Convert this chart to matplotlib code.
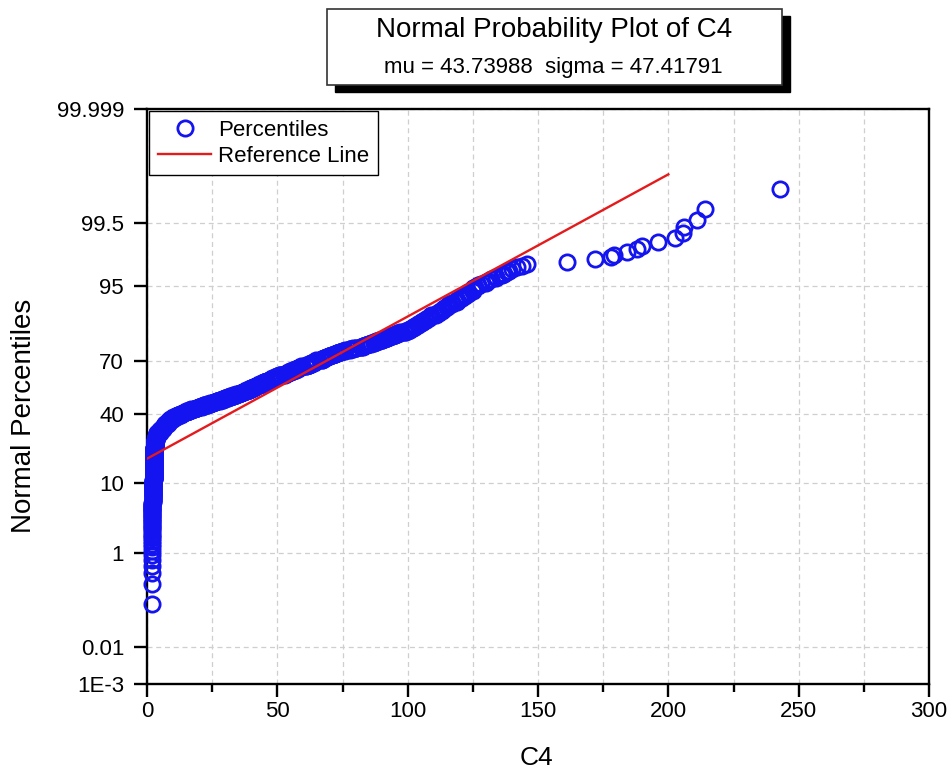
import numpy as np
import matplotlib
matplotlib.use('Agg')
import matplotlib.pyplot as plt
from matplotlib.patches import Rectangle
from matplotlib.ticker import FixedLocator, NullLocator, MultipleLocator
from statistics import NormalDist

plt.rcParams['font.family'] = ['Liberation Sans', 'DejaVu Sans']

c4_values = [2.0, 2.2, 2.5, 2.8, 3.0, 3.5, 4, 5, 6, 7, 8, 9, 10,
             11, 12, 13, 14, 15, 16,
             17, 18, 19, 20, 21, 22, 23, 24, 25,
             26, 27, 28, 29, 30, 31, 32, 33, 34, 35, 36,
             37, 38, 39, 40, 41, 42, 43, 44, 45, 46, 47, 48, 49, 50,
             51, 53, 54, 55, 56, 57, 58, 59, 61, 62,
             63, 64, 65, 67, 68, 69, 70, 71, 72, 73, 74, 75,
             76, 78, 79, 80, 82, 83,
             84, 85, 86, 87, 88, 89, 90, 91, 92, 93, 94, 95, 96, 97, 99, 100,
             101, 102, 103, 104, 105, 106, 107, 108, 109, 111,
             112, 113, 114, 115, 116, 117, 119,
             120, 121, 122, 123, 125,
             126, 127, 128, 130, 131, 132, 134,
             136, 137, 138, 139, 140,
             142, 144, 145.6,
             161, 172, 178, 179, 184, 188, 190, 196, 202.5, 205.6, 206, 211, 214, 243]
c4_counts = [35, 30, 40, 30, 20, 12, 10, 10, 10, 9, 8, 7, 7,
             4, 4, 4, 4, 4, 4,
             3, 3, 3, 3, 3, 3, 3, 3, 3,
             3, 3, 3, 4, 3, 3, 3, 4, 3, 3, 3,
             4, 4, 4, 5, 4, 4, 4, 4, 5, 4, 4, 4, 4, 4,
             4, 4, 4, 4, 4, 4, 4, 4, 3, 4,
             4, 4, 4, 4, 4, 3, 3, 3, 3, 3, 3, 2,
             2, 3, 2, 2, 2, 3,
             3, 2, 2, 2, 3, 2, 2, 2, 3, 2, 3, 2, 3, 2, 3, 2,
             3, 3, 3, 4, 3, 3, 4, 3, 3, 3,
             3, 3, 3, 3, 2, 2, 4,
             2, 2, 2, 3, 4,
             1, 2, 1, 2, 1, 1, 2,
             1, 1, 1, 1, 1,
             1, 1, 1,
             1, 1, 1, 1, 1, 1, 1, 1, 1, 1, 1, 1, 1, 1]

mu = 43.73988
sigma = 47.41791
ref_x = [0, 200]

y_ticks = [0.001, 0.01, 1, 10, 40, 70, 95, 99.5, 99.999]
y_labels = ['1E-3', '0.01', '1', '10', '40', '70', '95', '99.5', '99.999']

nd = NormalDist()
_ppf = np.vectorize(nd.inv_cdf, otypes=[float])
_cdf = np.vectorize(nd.cdf, otypes=[float])


def fwd(p):
    p = np.clip(np.asarray(p, dtype=float) / 100.0, 1e-12, 1 - 1e-12)
    return _ppf(p)


def inv(z):
    return 100.0 * _cdf(np.asarray(z, dtype=float))


data = np.sort(np.repeat(c4_values, c4_counts))
n = len(data)
rank = np.arange(1, n + 1)
pct = (rank - 0.375) / (n + 0.25) * 100  # Blom plotting positions
ref_p = inv((np.array(ref_x) - mu) / sigma)

fig = plt.figure(figsize=(9.5, 7.71), dpi=100)
ax = fig.add_axes([147 / 950, 1 - 684 / 771, 782 / 950, 575 / 771])
ax.set_yscale('function', functions=(fwd, inv))

ax.plot(data, pct, 'o', ms=11, mfc='none', mec='#1414f0', mew=2.0,
        label='Percentiles', clip_on=False, zorder=3)
ax.plot(ref_x, ref_p, color='#e41a1c', lw=1.7, label='Reference Line', zorder=4)

ax.set_xlim(0, 300)
ax.set_ylim(0.001, 99.999)
ax.xaxis.set_major_locator(MultipleLocator(50))
ax.xaxis.set_minor_locator(MultipleLocator(25))
ax.yaxis.set_major_locator(FixedLocator(y_ticks))
ax.yaxis.set_minor_locator(NullLocator())
ax.set_yticklabels(y_labels)

ax.grid(True, which='both', axis='x', color='#cfcfcf', lw=0.9, ls=(0, (4, 3)))
ax.grid(True, which='major', axis='y', color='#cfcfcf', lw=0.9, ls=(0, (4, 3)))
ax.set_axisbelow(True)

for s in ax.spines.values():
    s.set_linewidth(1.7)
ax.tick_params(which='major', direction='out', length=9.5, width=1.7, labelsize=16)
ax.tick_params(axis='x', which='major', pad=3)
ax.tick_params(axis='y', which='major', pad=7)
ax.tick_params(which='minor', direction='out', length=5.5, width=1.7)

leg = ax.legend(loc='upper left', bbox_to_anchor=(0, 1), borderaxespad=0.1,
                fontsize=16, frameon=True, fancybox=False, framealpha=1,
                edgecolor='black', borderpad=0.4, labelspacing=0.2,
                handlelength=2.4, handletextpad=0.3)
leg.get_frame().set_linewidth(1.0)

fig.text(24 / 950, 1 - 416 / 771, 'Normal Percentiles', rotation=90,
         ha='center', va='center', fontsize=20)
fig.text(536 / 950, 1 - 758 / 771, 'C4', ha='center', va='center', fontsize=19)

# title box with drop shadow
bx, by, bw, bh = 327, 9, 455, 76
fig.patches.append(Rectangle(((bx + 8) / 950, 1 - (by + bh + 7) / 771), bw / 950, bh / 771,
                             transform=fig.transFigure, facecolor='black',
                             edgecolor='black', zorder=1))
fig.patches.append(Rectangle((bx / 950, 1 - (by + bh) / 771), bw / 950, bh / 771,
                             transform=fig.transFigure, facecolor='white',
                             edgecolor='#333333', lw=1.2, zorder=2))
fig.text(554 / 950, 1 - 30 / 771, 'Normal Probability Plot of C4',
         ha='center', va='center', fontsize=20, zorder=3)
fig.text(553 / 950, 1 - 68 / 771, 'mu = 43.73988  sigma = 47.41791',
         ha='center', va='center', fontsize=16, zorder=3)

fig.savefig('out.png', dpi=100)
